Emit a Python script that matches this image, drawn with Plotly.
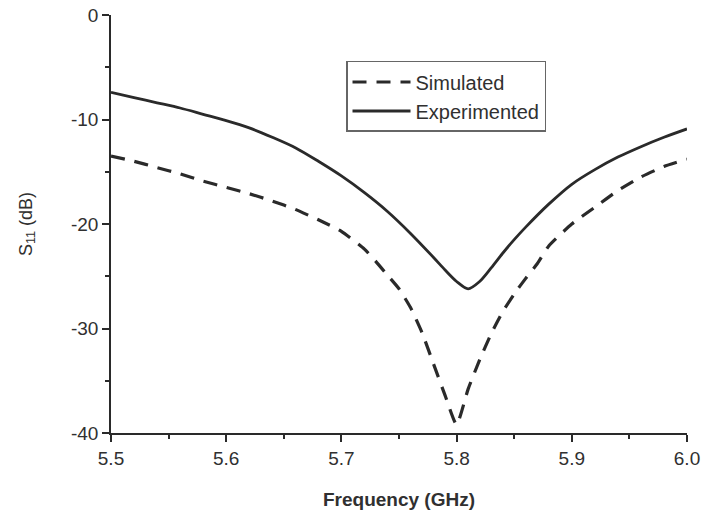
import plotly.graph_objects as go

freq_exp = [5.50, 5.52, 5.54, 5.56, 5.58, 5.60, 5.62, 5.64, 5.66, 5.68, 5.70, 5.72, 5.74,
            5.76, 5.78, 5.79, 5.80, 5.81, 5.82, 5.83, 5.84, 5.85, 5.86, 5.88, 5.90, 5.92, 5.94,
            5.96, 5.98, 6.00]
s11_exp = [-7.4, -7.9, -8.4, -8.9, -9.5, -10.1, -10.8, -11.7, -12.7, -14.0, -15.4, -17.0, -18.8,
           -20.9, -23.2, -24.4, -25.5, -26.2, -25.5, -24.2, -22.8, -21.5, -20.3, -18.1, -16.2, -14.8, -13.6,
           -12.6, -11.7, -10.9]

freq_sim = [5.50, 5.52, 5.54, 5.56, 5.58, 5.60, 5.62, 5.64, 5.66, 5.68, 5.70, 5.72, 5.73,
            5.74, 5.75, 5.76, 5.77, 5.78, 5.79, 5.80, 5.81, 5.82, 5.83, 5.84, 5.85, 5.86,
            5.87, 5.88, 5.90, 5.92, 5.94, 5.96, 5.98, 6.00]
s11_sim = [-13.5, -14.0, -14.6, -15.2, -15.9, -16.5, -17.1, -17.8, -18.6, -19.6, -20.7, -22.4, -23.6,
           -24.9, -26.2, -28.0, -30.4, -33.4, -36.4, -39.2, -35.8, -33.0, -30.5, -28.4, -26.7, -25.2,
           -23.8, -22.1, -20.0, -18.4, -16.8, -15.5, -14.5, -13.8]

x_ticks = [5.5, 5.6, 5.7, 5.8, 5.9, 6.0]
x_ticktext = ["5.5", "5.6", "5.7", "5.8", "5.9", "6.0"]
y_ticks = [0, -10, -20, -30, -40]
y_ticktext = ["0", "-10", "-20", "-30", "-40"]

ink = "#2a2a2a"
txt = "#303030"
font_family = "Liberation Sans, Arial, sans-serif"

fig = go.Figure()
fig.add_trace(go.Scatter(
    x=freq_sim, y=s11_sim, mode="lines", name="Simulated",
    line=dict(color=ink, width=3.2, dash="14px,10px", shape="spline", smoothing=0.5),
))
fig.add_trace(go.Scatter(
    x=freq_exp, y=s11_exp, mode="lines", name="Experimented",
    line=dict(color=ink, width=2.8, shape="spline", smoothing=0.8),
))

axis_common = dict(
    showline=True, linecolor=ink, linewidth=1.6,
    ticks="outside", ticklen=7, tickwidth=1.6, tickcolor=ink,
    showgrid=False, zeroline=False, mirror=False, automargin=False,
    ticklabeloverflow="allow",
    tickfont=dict(family=font_family, size=19, color=txt),
)

fig.update_layout(
    width=702, height=510,
    margin=dict(l=111, r=15, t=15, b=77),
    paper_bgcolor="white", plot_bgcolor="white",
    font=dict(family=font_family, color=txt),
    xaxis=dict(
        range=[5.5, 6.0], tickvals=x_ticks, ticktext=x_ticktext,
        minor=dict(ticks="outside", ticklen=4, tickwidth=1.6, tickcolor=ink, dtick=0.05, tick0=5.5),
        title=dict(text="<b>Frequency (GHz)</b>", font=dict(family=font_family, size=19, color=txt), standoff=25),
        **axis_common,
    ),
    yaxis=dict(
        range=[-40, 0], tickvals=y_ticks, ticktext=y_ticktext,
        minor=dict(ticks="outside", ticklen=4, tickwidth=1.6, tickcolor=ink, dtick=5, tick0=0),
        title=dict(text="S<sub>11</sub> (dB)", font=dict(family=font_family, size=18, color=txt), standoff=34),
        **axis_common,
    ),
    legend=dict(
        x=0.408, y=0.89, xanchor="left", yanchor="top",
        bgcolor="white", bordercolor="#666", borderwidth=1.5,
        font=dict(family=font_family, size=20, color=txt),
        itemwidth=58, tracegroupgap=0,
    ),
    showlegend=True,
)

fig.write_html("out.html", config={"displayModeBar": False},
               post_script="document.body.style.margin='0';")
